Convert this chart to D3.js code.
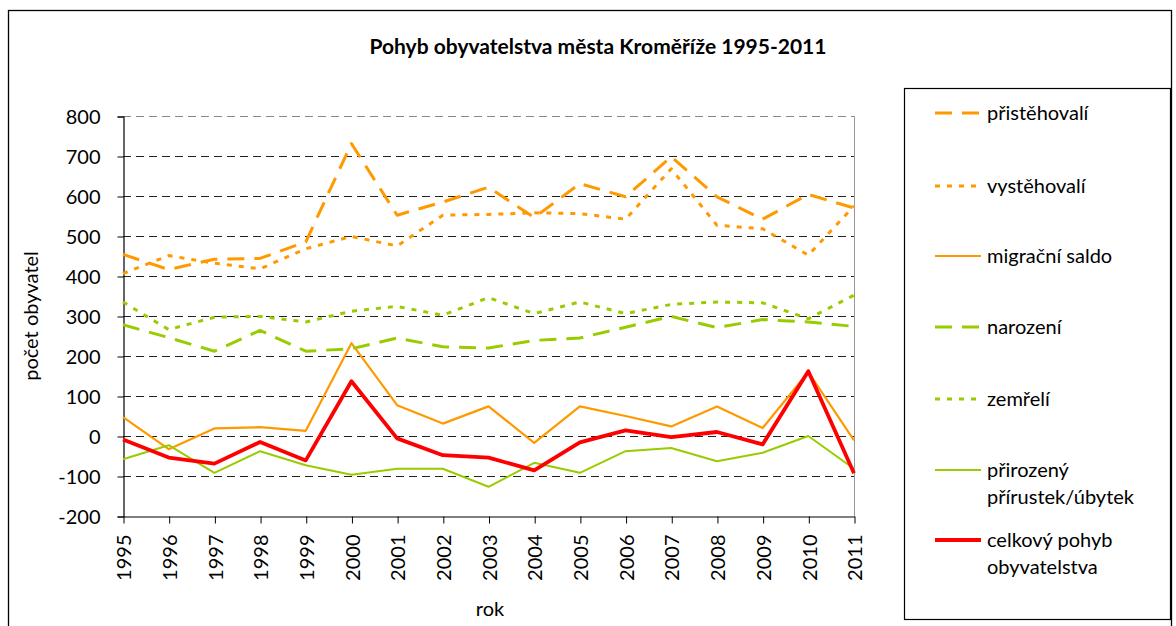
<!DOCTYPE html>
<html>
<head>
<meta charset="utf-8">
<script src="https://cdn.jsdelivr.net/npm/d3@7"></script>
<style>
  body { margin: 0; background: #fff; }
  svg text { font-family: Lato, "Open Sans", sans-serif; fill: #000; }
</style>
</head>
<body>
<div id="chart"></div>
<script>
var years = [1995,1996,1997,1998,1999,2000,2001,2002,2003,2004,2005,2006,2007,2008,2009,2010,2011];
var pristehovali = [454,416,442,444,485,731,552,585,622,546,631,598,698,598,542,604,570];
var vystehovali  = [406,451,432,418,468,499,475,552,554,558,556,542,668,527,518,452,575];
var migracni     = [47,-33,19,22,13,232,77,31,74,-17,74,50,24,74,20,160,-11];
var narozeni     = [278,246,212,264,212,218,245,223,220,239,245,272,299,271,291,285,274];
var zemreli      = [335,266,297,299,285,312,324,302,346,306,335,306,329,335,333,293,352];
var prirozeny    = [-58,-23,-92,-38,-73,-97,-82,-82,-127,-67,-92,-38,-30,-63,-42,0,-82];
var celkovy      = [-9,-54,-69,-15,-61,137,-6,-48,-54,-86,-16,14,-3,10,-21,162,-93];
var yTicks = [-200,-100,0,100,200,300,400,500,600,700,800];

var series = [
  {name: ["přistěhovalí"], values: pristehovali, color: "#FF9900", width: 3, dash: "17,10"},
  {name: ["vystěhovalí"], values: vystehovali, color: "#FF9900", width: 3, dash: "5,7"},
  {name: ["migrační saldo"], values: migracni, color: "#FF9900", width: 2.2, dash: null},
  {name: ["narození"], values: narozeni, color: "#99CC00", width: 3, dash: "17,10"},
  {name: ["zemřelí"], values: zemreli, color: "#99CC00", width: 3, dash: "5,7"},
  {name: ["přirozený", "přírustek/úbytek"], values: prirozeny, color: "#99CC00", width: 2, dash: null},
  {name: ["celkový pohyb", "obyvatelstva"], values: celkovy, color: "#FF0000", width: 3.8, dash: null}
];

var W = 1176, H = 626;
var svg = d3.select("#chart").append("svg").attr("width", W).attr("height", H);

// outer frame
svg.append("rect").attr("x", 8.5).attr("y", 10.5).attr("width", 1163).attr("height", 630)
  .attr("fill", "none").attr("stroke", "#000").attr("stroke-width", 1.3);

svg.append("text").attr("x", 598).attr("y", 54).attr("text-anchor", "middle")
  .style("font-weight", "bold").style("font-size", "21px")
  .text("Pohyb obyvatelstva města Kroměříže 1995-2011");

var x = d3.scalePoint().domain(years).range([123, 854]);
var y = d3.scaleLinear().domain([-200, 800]).range([516, 116]);

// gridlines
svg.append("g").selectAll("line").data(yTicks.filter(function(d){ return d > -200; }))
  .enter().append("line")
  .attr("x1", 123).attr("x2", 854)
  .attr("y1", function(d){ return Math.round(y(d)) + 0.5; })
  .attr("y2", function(d){ return Math.round(y(d)) + 0.5; })
  .attr("stroke", function(d){ return d == 800 ? "#888" : "#222"; })
  .attr("stroke-width", 1)
  .attr("stroke-dasharray", "8,5");

// right border of plot area
svg.append("line").attr("x1", 854.5).attr("x2", 854.5).attr("y1", 116).attr("y2", 516)
  .attr("stroke", "#999").attr("stroke-width", 1);

// y axis
var yAxis = svg.append("g").attr("transform", "translate(123.5,0.5)")
  .call(d3.axisLeft(y).tickValues(yTicks).tickSize(6).tickPadding(17)
    .tickFormat(function(d){ return String(d); }));
yAxis.selectAll("text").style("font-size", "20px").attr("dy", "0.36em");
yAxis.select(".domain").attr("stroke-width", 1.2);

// x axis
var xAxis = svg.append("g").attr("transform", "translate(0.5,516.5)")
  .call(d3.axisBottom(x).tickSize(7).tickSizeOuter(0));
xAxis.select(".domain").attr("stroke-width", 1.2);
xAxis.selectAll("text")
  .style("font-size", "20px")
  .attr("text-anchor", "end")
  .attr("transform", "rotate(-90)")
  .attr("x", -18).attr("y", 0).attr("dy", "0.36em");

svg.append("text").attr("x", 490).attr("y", 616).attr("text-anchor", "middle")
  .style("font-size", "20px").text("rok");
svg.append("text").attr("transform", "translate(38,316) rotate(-90)").attr("text-anchor", "middle")
  .style("font-size", "20px").text("počet obyvatel");

var line = d3.line().x(function(d, i){ return x(years[i]); }).y(function(d){ return y(d); });

svg.append("g").selectAll("path").data(series).enter().append("path")
  .attr("d", function(d){ return line(d.values); })
  .attr("fill", "none")
  .attr("stroke", function(d){ return d.color; })
  .attr("stroke-width", function(d){ return d.width; })
  .attr("stroke-dasharray", function(d){ return d.dash; })
  .attr("stroke-linejoin", "round");

// legend
svg.append("rect").attr("x", 904.5).attr("y", 88.5).attr("width", 266).attr("height", 531)
  .attr("fill", "#fff").attr("stroke", "#000").attr("stroke-width", 1.2);

var legendY = [113, 186, 256, 327, 399, 470, 540];
var items = svg.append("g").selectAll("g").data(series).enter().append("g")
  .attr("transform", function(d, i){ return "translate(0," + legendY[i] + ")"; });
items.append("line").attr("x1", 935).attr("x2", 981).attr("y1", 0).attr("y2", 0)
  .attr("stroke", function(d){ return d.color; })
  .attr("stroke-width", function(d){ return d.width; })
  .attr("stroke-dasharray", function(d){ return d.dash; });
items.append("text").attr("x", 987).attr("y", 0).style("font-size", "20px")
  .selectAll("tspan").data(function(d){ return d.name; }).enter().append("tspan")
  .attr("x", 987).attr("dy", function(d, i){ return i == 0 ? "0.35em" : "1.37em"; })
  .text(function(d){ return d; });
</script>
</body>
</html>
